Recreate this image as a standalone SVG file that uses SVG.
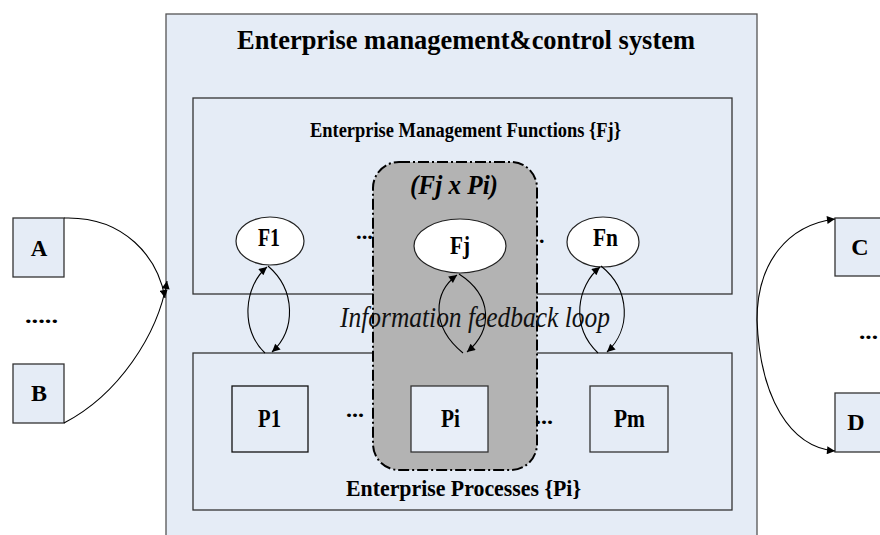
<svg xmlns="http://www.w3.org/2000/svg" width="880" height="535" viewBox="0 0 880 535">
<defs>
<style>
.box{fill:#e5ecf6;stroke:#333;stroke-width:1.3}
.ell{fill:#fff;stroke:#222;stroke-width:1.2}
.t{font-family:"Liberation Serif","Times New Roman",serif;font-weight:bold;fill:#000}
.it{font-family:"Liberation Serif","Times New Roman",serif;font-style:italic;fill:#111}
.c{fill:none;stroke:#000;stroke-width:1.1}
</style>
<marker id="ah" viewBox="0 0 10 10" refX="10" refY="5" markerWidth="10" markerHeight="8" markerUnits="userSpaceOnUse" orient="auto">
<path d="M0,0 L10,5 L0,10 z" fill="#000"/>
</marker>
</defs>
<rect width="880" height="535" fill="#fff"/>

<g id="system">
<rect class="box" x="166" y="14" width="591" height="540" style="stroke:#555"/>
<text class="t" x="237" y="49" font-size="27" textLength="458" lengthAdjust="spacingAndGlyphs">Enterprise management&amp;control  system</text>
</g>

<g id="functions">
<rect class="box" x="193" y="98" width="539" height="196"/>
<text class="t" x="310" y="137" font-size="20" textLength="311" lengthAdjust="spacingAndGlyphs">Enterprise Management Functions {Fj}</text>
</g>

<g id="processes">
<rect class="box" x="193" y="353" width="539" height="157"/>
<text class="t" x="346" y="496" font-size="23" textLength="235" lengthAdjust="spacingAndGlyphs">Enterprise Processes {Pi}</text>
</g>

<g id="fjxpi">
<rect x="373" y="162" width="164" height="308" rx="26" ry="26" fill="#b3b3b3" stroke="#000" stroke-width="2" stroke-dasharray="11 3 2 3"/>
<text class="t" x="410" y="194" font-size="27" font-style="italic" textLength="88" lengthAdjust="spacingAndGlyphs">(Fj x Pi)</text>
</g>

<g id="F1">
<ellipse class="ell" cx="270" cy="241" rx="34" ry="24"/>
<text class="t" x="258" y="246" font-size="26" textLength="22" lengthAdjust="spacingAndGlyphs">F1</text>
</g>
<g id="Fj">
<ellipse class="ell" cx="460" cy="246" rx="46" ry="27"/>
<text class="t" x="450" y="254" font-size="26" textLength="20" lengthAdjust="spacingAndGlyphs">Fj</text>
</g>
<g id="Fn">
<ellipse class="ell" cx="603" cy="242" rx="36" ry="25"/>
<text class="t" x="593" y="246" font-size="26" textLength="25" lengthAdjust="spacingAndGlyphs">Fn</text>
</g>

<g id="P1">
<rect class="box" x="232" y="386" width="76" height="66" style="stroke:#111"/>
<text class="t" x="258" y="427" font-size="26" textLength="23" lengthAdjust="spacingAndGlyphs">P1</text>
</g>
<g id="Pi">
<rect class="box" x="411" y="386" width="77" height="66" style="fill:#e8eef8;stroke:#333"/>
<text class="t" x="441" y="427" font-size="26" textLength="19" lengthAdjust="spacingAndGlyphs">Pi</text>
</g>
<g id="Pm">
<rect class="box" x="590" y="386" width="78" height="66"/>
<text class="t" x="614" y="427" font-size="26" textLength="31" lengthAdjust="spacingAndGlyphs">Pm</text>
</g>

<g id="A">
<rect class="box" x="13" y="218" width="51" height="59"/>
<text class="t" x="39" y="256" font-size="23" text-anchor="middle">A</text>
</g>
<g id="B">
<rect class="box" x="13" y="364" width="51" height="59"/>
<text class="t" x="39" y="401" font-size="24" text-anchor="middle">B</text>
</g>
<g id="C">
<rect class="box" x="835" y="218" width="60" height="58"/>
<text class="t" x="860" y="255" font-size="24" text-anchor="middle">C</text>
</g>
<g id="D">
<rect class="box" x="835" y="393" width="60" height="59"/>
<text class="t" x="856" y="430" font-size="24" text-anchor="middle">D</text>
</g>

<g id="labels">
<text class="t" x="25" y="323" font-size="22" textLength="33" lengthAdjust="spacingAndGlyphs">.....</text>
<text class="t" x="859" y="339" font-size="22" textLength="19" lengthAdjust="spacingAndGlyphs">...</text>
<text class="t" x="356" y="239" font-size="22" textLength="17" lengthAdjust="spacingAndGlyphs">...</text>
<text class="t" x="539" y="243" font-size="22">.</text>
<text class="t" x="346" y="417" font-size="22" textLength="18" lengthAdjust="spacingAndGlyphs">...</text>
<text class="t" x="535" y="424" font-size="22" textLength="18" lengthAdjust="spacingAndGlyphs">...</text>
<text class="it" x="340" y="327" font-size="30" textLength="270" lengthAdjust="spacingAndGlyphs">Information feedback loop</text>
</g>

<g id="connectors">
<path class="c" d="M265,353 C240,330 244,286 267,267" marker-end="url(#ah)"/>
<path class="c" d="M268,266 C296,290 296,330 272,352" marker-end="url(#ah)"/>
<path class="c" d="M463,353 C430,326 434,292 457,275" marker-end="url(#ah)"/>
<path class="c" d="M459,274 C493,296 493,330 467,352" marker-end="url(#ah)"/>
<path class="c" d="M598,353 C570,326 577,286 600,267" marker-end="url(#ah)"/>
<path class="c" d="M601,266 C631,290 631,330 607,352" marker-end="url(#ah)"/>
<path class="c" d="M64,218 C125,216 158,258 165,298" marker-end="url(#ah)"/>
<path class="c" d="M64,423 C118,395 158,335 167,281" marker-end="url(#ah)"/>
<path class="c" d="M757,320 C757,262 788,225 835,219" marker-end="url(#ah)"/>
<path class="c" d="M757,320 C760,398 790,447 835,451" marker-end="url(#ah)"/>
</g>
</svg>
